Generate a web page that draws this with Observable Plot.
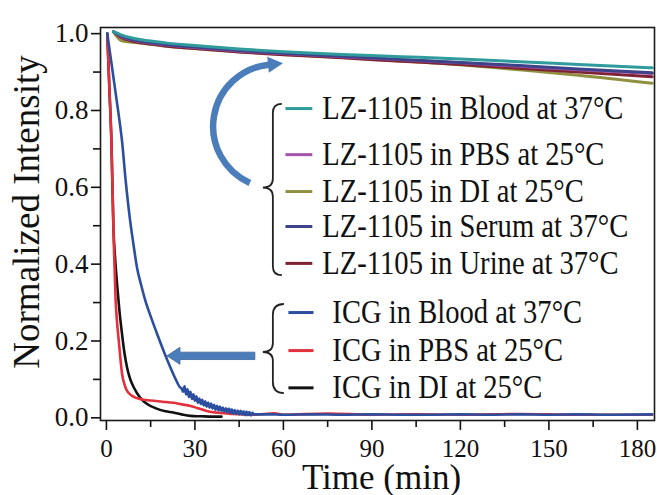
<!DOCTYPE html>
<html><head><meta charset="utf-8">
<script src="https://cdn.jsdelivr.net/npm/d3@7"></script>
<script src="https://cdn.jsdelivr.net/npm/@observablehq/plot@0.6"></script>
<style>body{margin:0;background:#fff;} svg text{font-family:'Liberation Serif','Times New Roman',serif;}</style>
</head><body><div id="chart"></div>
<script>
// ---------- data ----------
const lzTime  = [2.4, 5, 8, 12, 20, 30, 45, 60, 80, 100, 120, 140, 160, 185];
const lzBlood = [1.005, 0.997, 0.990, 0.984, 0.976, 0.969, 0.960, 0.953, 0.946, 0.940, 0.934, 0.927, 0.920, 0.911];
const lzSerum = [1.005, 0.994, 0.986, 0.980, 0.972, 0.965, 0.956, 0.949, 0.941, 0.933, 0.925, 0.917, 0.908, 0.898];
const lzPBS   = [1.005, 0.993, 0.985, 0.979, 0.971, 0.964, 0.955, 0.948, 0.940, 0.932, 0.924, 0.915, 0.906, 0.896];
const lzUrine = [1.005, 0.990, 0.982, 0.976, 0.968, 0.961, 0.952, 0.945, 0.937, 0.928, 0.920, 0.910, 0.900, 0.888];
const lzDI    = [1.005, 0.982, 0.978, 0.975, 0.968, 0.961, 0.953, 0.946, 0.938, 0.929, 0.919, 0.906, 0.892, 0.871];

const icgBloodTime = [0.3, 1.5, 2.5, 3.5, 4.5, 5.3, 6.5, 8.1, 9.2, 10.4, 11.8, 13.2, 15.2, 17.2, 19.5, 21.7, 23.5, 25,
  25.5, 26, 26.5, 27, 27.5, 28, 28.5, 29, 29.5, 30, 30.5, 31, 31.5, 32, 32.5, 33, 33.5, 34, 34.5, 35, 35.5, 36, 36.5, 37, 37.5,
  38, 38.5, 39, 39.5, 40, 40.5, 41, 41.5, 42, 42.5, 43, 43.5, 44, 44.5, 45, 45.5, 46, 46.5, 47, 47.5, 48, 48.5, 49, 49.5, 50,
  55, 60, 70, 80, 90, 100, 110, 120, 130, 140, 150, 160, 170, 185];
const icgBloodValue = [1.0, 0.935, 0.88, 0.825, 0.77, 0.72, 0.62, 0.51, 0.45, 0.39, 0.345, 0.305, 0.26, 0.218, 0.172, 0.131, 0.1, 0.079,
  0.076, 0.068, 0.082, 0.061, 0.074, 0.054, 0.068, 0.049, 0.061, 0.044, 0.056, 0.039, 0.05, 0.036, 0.047, 0.032, 0.043, 0.029, 0.04, 0.026, 0.037, 0.024, 0.034, 0.021, 0.031,
  0.019, 0.029, 0.018, 0.027, 0.016, 0.025, 0.014, 0.024, 0.013, 0.022, 0.011, 0.02, 0.01, 0.019, 0.009, 0.018, 0.008, 0.017, 0.007, 0.016, 0.007, 0.015, 0.006, 0.013, 0.009,
  0.009, 0.008, 0.009, 0.008, 0.009, 0.008, 0.008, 0.009, 0.008, 0.009, 0.008, 0.009, 0.008, 0.009];

const icgPBSTime  = [0.3, 1.0, 1.7, 2.3, 2.6, 3.1, 3.6, 4.2, 4.8, 5.3, 6.2, 7, 9, 11.5, 15, 19, 22.7, 25.5, 28.5, 31, 34, 38, 43, 50, 57, 60, 75, 90, 105, 120, 140, 160, 185];
const icgPBSValue = [1.0, 0.86, 0.72, 0.52, 0.43, 0.31, 0.25, 0.2, 0.15, 0.115, 0.085, 0.07, 0.056, 0.049, 0.045, 0.042, 0.039, 0.035, 0.031, 0.025, 0.018, 0.013, 0.01, 0.008, 0.012, 0.008, 0.011, 0.008, 0.009, 0.008, 0.01, 0.008, 0.008];

const icgDITime  = [0.3, 1.0, 1.7, 2.4, 3.0, 3.6, 4.4, 5.3, 6.1, 7, 8.1, 9.3, 11.5, 13.8, 17, 20, 22.7, 25.5, 28.5, 32, 36, 39];
const icgDIValue = [1.0, 0.86, 0.72, 0.49, 0.41, 0.35, 0.28, 0.218, 0.17, 0.131, 0.1, 0.079, 0.052, 0.036, 0.024, 0.017, 0.014, 0.009, 0.005, 0.004, 0.003, 0.003];

const lzLabels  = ["LZ-1105 in Blood at 37°C", "LZ-1105 in PBS at 25°C", "LZ-1105 in DI at 25°C", "LZ-1105 in Serum at 37°C", "LZ-1105 in Urine at 37°C"];
const lzColors  = ["#2f9b9d", "#a552ab", "#8f9040", "#3d4388", "#7e2331"];
const lzSeries  = [lzBlood, lzPBS, lzDI, lzSerum, lzUrine];
const lzLegendY = [0.805, 0.685, 0.589, 0.498, 0.402];

const icgLabels  = ["ICG in Blood at 37°C", "ICG in PBS at 25°C", "ICG in DI at 25°C"];
const icgColors  = ["#2b4f9e", "#e2303c", "#111111"];
const icgLegendY = [0.274, 0.175, 0.078];

const xTicks = [0, 30, 60, 90, 120, 150, 180];
const xMinor = [15, 45, 75, 105, 135, 165];
const yTicks = [0, 0.2, 0.4, 0.6, 0.8, 1.0];
const yMinor = [0.1, 0.3, 0.5, 0.7, 0.9];

// annotation anchors (data space)
const lzLegendLineX = [60.7, 69.8], lzLegendTextX = 73.2;
const icgLegendLineX = [61.7, 70.2], icgLegendTextX = 76.6;
const lzBrace  = {x: 56.6, top: 0.816, mid: 0.598, bottom: 0.370};
const icgBrace = {x: 56.6, top: 0.295, mid: 0.170, bottom: 0.063};
const curveArrowStart = [48.8, 0.61], curveArrowEnd = [55.3, 0.918];
const straightArrowTail = [50.5, 0.16], straightArrowTip = [20.7, 0.16];

// ---------- build ----------
const lzRows = lzSeries.map(vals => lzTime.map((t, j) => ({t, v: vals[j]})));
const icgRows = [
  icgBloodTime.map((t, j) => ({t, v: icgBloodValue[j]})),
  icgPBSTime.map((t, j) => ({t, v: icgPBSValue[j]})),
  icgDITime.map((t, j) => ({t, v: icgDIValue[j]}))
];

const font = "'Liberation Serif', 'Times New Roman', serif";
const legendSize = 32.9, legendSquash = 1 / 1.15;
const marks = [];
[2, 4, 1, 3, 0].forEach(i => marks.push(Plot.line(lzRows[i], {x: "t", y: "v", stroke: lzColors[i], strokeWidth: 3, curve: "monotone-x"})));
[2, 1, 0].forEach(i => marks.push(Plot.line(icgRows[i], {x: "t", y: "v", stroke: icgColors[i], strokeWidth: 2.6, curve: "monotone-x"})));

const lzLeg = lzLabels.map((label, i) => ({label, y: lzLegendY[i], color: lzColors[i]}));
const icgLeg = icgLabels.map((label, i) => ({label, y: icgLegendY[i], color: icgColors[i]}));
lzLeg.forEach(d => marks.push(Plot.link([d], {x1: lzLegendLineX[0], x2: lzLegendLineX[1], y1: "y", y2: "y", stroke: d.color, strokeWidth: 3})));
icgLeg.forEach(d => marks.push(Plot.link([d], {x1: icgLegendLineX[0], x2: icgLegendLineX[1], y1: "y", y2: "y", stroke: d.color, strokeWidth: 3})));
marks.push(Plot.text(lzLeg, {x: lzLegendTextX, y: "y", text: "label", textAnchor: "start", lineAnchor: "middle", fontSize: legendSize, fontFamily: font, fill: "#111"}));
marks.push(Plot.text(icgLeg, {x: icgLegendTextX, y: "y", text: "label", textAnchor: "start", lineAnchor: "middle", fontSize: legendSize, fontFamily: font, fill: "#111"}));

marks.push(Plot.axisX({ticks: xTicks, tickSize: 10, tickPadding: 9, fontSize: 25, fontFamily: font, strokeWidth: 1.6, label: null, tickFormat: d => String(d)}));
marks.push(Plot.axisX({ticks: xMinor, tickSize: 7, strokeWidth: 1.6, label: null, tickFormat: () => ""}));
marks.push(Plot.axisY({ticks: yTicks, tickSize: 9, tickPadding: 3, fontSize: 27, fontFamily: font, strokeWidth: 1.6, label: null, tickFormat: d3.format(".1f")}));
marks.push(Plot.axisY({ticks: yMinor, tickSize: 7, strokeWidth: 1.6, label: null, tickFormat: () => ""}));
marks.push(Plot.frame({stroke: "#1a1a1a", strokeWidth: 1.6}));
marks.push(Plot.text(["Normalized Intensity"], {text: d => d, frameAnchor: "left", textAnchor: "middle", lineAnchor: "middle", rotate: -90, dx: -73, dy: -12, fontSize: 37, fontFamily: font, fill: "#111"}));
marks.push(Plot.text(["Time (min)"], {text: d => d, frameAnchor: "bottom", textAnchor: "middle", lineAnchor: "middle", dx: 4, dy: 57, fontSize: 35, fontFamily: font, fill: "#111"}));

const chart = Plot.plot({
  width: 657, height: 495,
  marginLeft: 100, marginRight: 3, marginTop: 27, marginBottom: 75,
  x: {domain: [-2, 185.8]},
  y: {domain: [-0.007, 1.016]},
  style: {fontFamily: font, background: "#fff", color: "#111", overflow: "visible"},
  marks
});
document.getElementById("chart").appendChild(chart);

// ---------- annotations through plot scales ----------
const xs = chart.scale("x"), ys = chart.scale("y");
const sx = d3.scaleLinear(xs.domain, xs.range), sy = d3.scaleLinear(ys.domain, ys.range);
const svg = d3.select(chart);

// legend text is tall and narrow in the original: compress horizontally
const legendSet = new Set([...lzLabels, ...icgLabels]);
svg.selectAll("text").filter(function() { return legendSet.has(this.textContent); })
  .each(function() {
    const len = this.getComputedTextLength();
    this.setAttribute("textLength", (len * legendSquash).toFixed(1));
    this.setAttribute("lengthAdjust", "spacingAndGlyphs");
  });

function bracePath(b, c, m, w) {
  const x = sx(b.x), y0 = sy(b.top), ym = sy(b.mid), y1 = sy(b.bottom);
  return `M${x + c},${y0} Q${x},${y0} ${x},${y0 + c} L${x},${ym - m} Q${x},${ym} ${x - w},${ym} Q${x},${ym} ${x},${ym + m} L${x},${y1 - c} Q${x},${y1} ${x + c},${y1}`;
}
svg.append("path").attr("d", bracePath(lzBrace, 9, 9, 10)).attr("fill", "none").attr("stroke", "#222").attr("stroke-width", 1.8);
svg.append("path").attr("d", bracePath(icgBrace, 11, 9, 10)).attr("fill", "none").attr("stroke", "#222").attr("stroke-width", 1.8);

const arrowFill = "#4a7dba", arrowEdge = "#3a6598";
{
  const p0 = [sx(curveArrowStart[0]), sy(curveArrowStart[1])];
  const p1 = [sx(curveArrowEnd[0]), sy(curveArrowEnd[1])];
  const r = 62;
  const dx = p1[0] - p0[0], dy = p1[1] - p0[1], L = Math.hypot(dx, dy);
  const k = Math.sqrt(Math.max(0, r * r - L * L / 4));
  const cx = (p0[0] + p1[0]) / 2 + k * (-dy) / L, cy = (p0[1] + p1[1]) / 2 + k * dx / L;
  svg.append("path").attr("d", `M${p0[0]},${p0[1]} A${r},${r} 0 0 1 ${p1[0]},${p1[1]}`)
    .attr("fill", "none").attr("stroke", arrowFill).attr("stroke-width", 6.5);
  let tx = -(p1[1] - cy), ty = p1[0] - cx; const tl = Math.hypot(tx, ty); tx /= tl; ty /= tl;
  const nx = -ty, ny = tx, hl = 14, hw = 8;
  const b = [p1[0] - tx, p1[1] - ty];
  const pts = [[b[0] + nx * hw, b[1] + ny * hw], [p1[0] + tx * hl, p1[1] + ty * hl], [b[0] - nx * hw, b[1] - ny * hw]];
  svg.append("polygon").attr("points", pts.map(p => p.join(",")).join(" ")).attr("fill", arrowFill);
}
{
  const y = sy(straightArrowTail[1]), xt = sx(straightArrowTail[0]), xp = sx(straightArrowTip[0]);
  const hl = 13, xb = xp + hl, sh = 3.7, hh = 8.5;
  const pts = [[xt, y - sh], [xb, y - sh], [xb, y - hh], [xp, y], [xb, y + hh], [xb, y + sh], [xt, y + sh]];
  svg.append("polygon").attr("points", pts.map(p => p.join(",")).join(" ")).attr("fill", arrowFill).attr("stroke", arrowEdge).attr("stroke-width", 0.8);
}
</script>
</body></html>
